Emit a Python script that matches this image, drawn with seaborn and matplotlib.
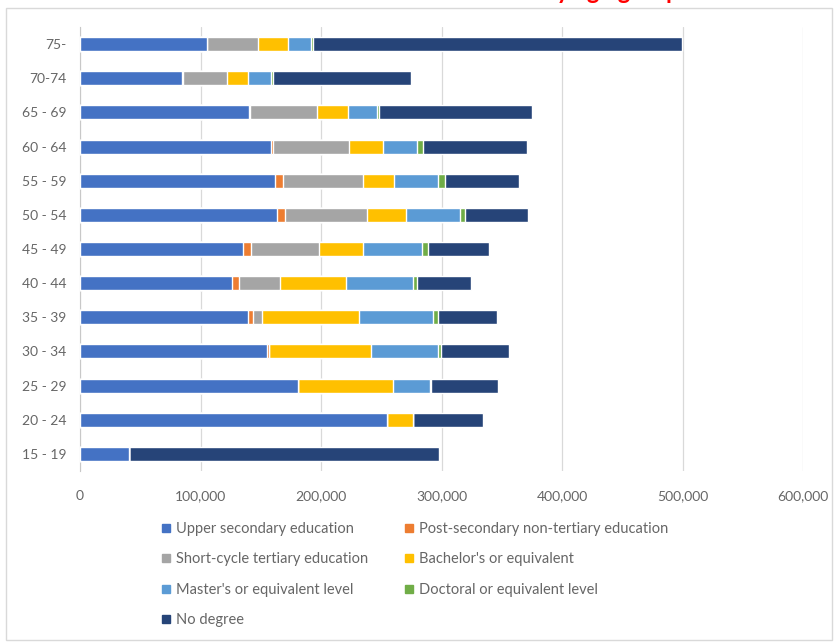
import matplotlib
matplotlib.use("Agg")
import matplotlib.pyplot as plt
from matplotlib.lines import Line2D
from matplotlib.patches import Rectangle
from matplotlib.ticker import FuncFormatter
import pandas as pd
import seaborn as sns

# age groups, top to bottom as in the chart
ages = ["75-", "70-74", "65 - 69", "60 - 64", "55 - 59", "50 - 54", "45 - 49",
        "40 - 44", "35 - 39", "30 - 34", "25 - 29", "20 - 24", "15 - 19"]

# population per education level
upper_secondary = [105400, 84600, 140200, 158500, 161800, 163500, 135300,
                   126100, 139400, 155200, 180900, 254800, 40700]
post_secondary = [0, 800, 500, 1700, 6600, 6600, 6600, 5800, 4100, 1700, 0, 0, 0]
short_cycle = [42300, 36500, 55600, 63100, 66400, 68000, 56400, 34000, 7500,
               0, 0, 0, 0]
bachelor = [24900, 17400, 25700, 28200, 25700, 32400, 36500, 54800, 80500,
            84600, 78800, 21600, 0]
master = [19100, 19100, 24100, 28200, 36500, 44800, 49000, 55600, 61400,
          55600, 30700, 0, 0]
doctoral = [1700, 1700, 1700, 5000, 5800, 4100, 5000, 3300, 4100, 2500, 800, 0, 0]
no_degree = [306200, 114500, 127000, 86300, 61400, 52300, 50600, 44800, 49000,
             56400, 55600, 58100, 257300]

levels = ["Upper secondary education", "Post-secondary non-tertiary education",
          "Short-cycle tertiary education", "Bachelor's or equivalent",
          "Master's or equivalent level", "Doctoral or equivalent level",
          "No degree"]
colors = ["#4472C4", "#ED7D31", "#A5A5A5", "#FFC000", "#5B9BD5", "#70AD47", "#264478"]
series = [upper_secondary, post_secondary, short_cycle, bachelor, master,
          doctoral, no_degree]

df = pd.DataFrame({"age": ages})
for name, vals in zip(levels, series):
    df[name] = vals
# cumulative sums so we can stack by overdrawing
cum = df[levels].cumsum(axis=1)
for name in levels:
    df["cum_" + name] = cum[name]

sns.set_style("white")
plt.rcParams["font.family"] = ["Lato", "DejaVu Sans"]
text_grey = "#666666"

fig = plt.figure(figsize=(8.38, 6.43), dpi=100)
ax = fig.add_axes([80 / 838, 1 - 471 / 643, (803 - 80) / 838, 444 / 643])

# draw longest first, then shorter ones on top
for name, c in reversed(list(zip(levels, colors))):
    sns.barplot(data=df, x="cum_" + name, y="age", color=c, width=0.41,
                saturation=1, orient="h", ax=ax, zorder=3)

ax.set_xlim(0, 600000)
ax.set_xticks(range(0, 600001, 100000))
ax.xaxis.set_major_formatter(FuncFormatter(lambda v, p: f"{v:,.0f}"))
ax.grid(axis="x", color="#d9d9d9", lw=0.9, zorder=0)
ax.set_axisbelow(True)
ax.set_xlabel("")
ax.set_ylabel("")
for s in ["top", "right", "bottom"]:
    ax.spines[s].set_visible(False)
ax.spines["left"].set_color("#c8c8c8")
ax.tick_params(axis="x", length=0, pad=14, labelsize=10, labelcolor=text_grey)
ax.tick_params(axis="y", length=0, pad=10, labelsize=10, labelcolor=text_grey)

# legend, row-wise like the original (matplotlib fills by column)
order = [0, 2, 4, 6, 1, 3, 5]
handles = [Line2D([], [], marker="s", ls="none", markersize=6,
                  markerfacecolor=colors[i], markeredgecolor=colors[i]) for i in order]
fig.legend(handles, [levels[i] for i in order], ncol=2, frameon=False,
           loc="upper left", bbox_to_anchor=(148 / 838, 1 - 509 / 643),
           fontsize=10.5, labelcolor=text_grey, handlelength=0.6,
           handletextpad=0.4, columnspacing=2.5, labelspacing=1.12)

# red title of the screenshot, mostly cut off at the top edge
fig.text(0.58, 1 + 1 / 643, "Educational attainment by age group", color="red",
         fontsize=17, fontweight="bold", ha="center", va="baseline")

fig.add_artist(Rectangle((6 / 838, 3 / 643), 826 / 838, 632 / 643,
                         transform=fig.transFigure, fill=False,
                         ec="#d9d9d9", lw=1))

fig.savefig("out.png", dpi=100)
